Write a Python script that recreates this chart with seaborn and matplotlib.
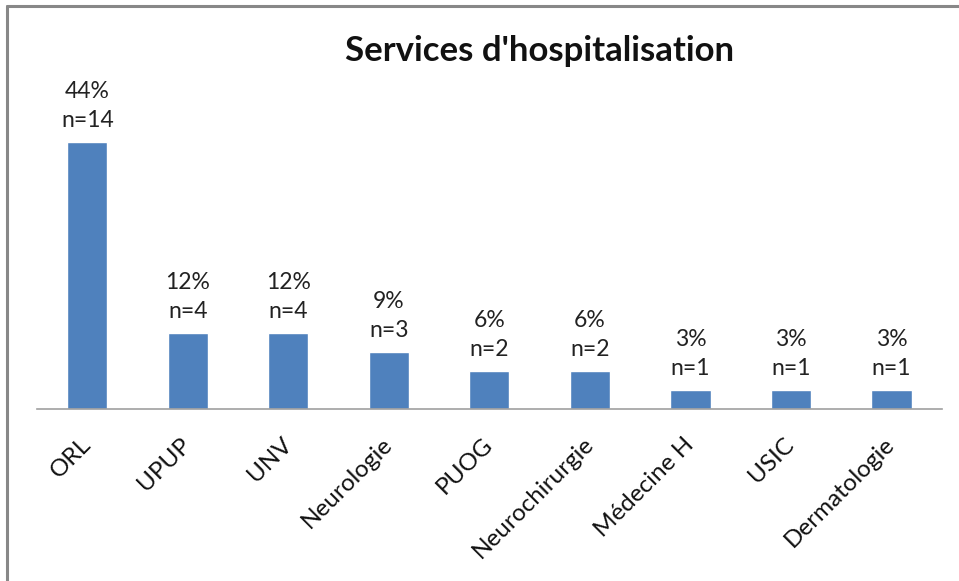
import matplotlib
matplotlib.use('Agg')
import matplotlib.pyplot as plt
import seaborn as sns
from matplotlib.lines import Line2D

# données
services = ['ORL', 'UPUP', 'UNV', 'Neurologie', 'PUOG', 'Neurochirurgie',
            'Médecine H', 'USIC', 'Dermatologie']
effectifs = [14, 4, 4, 3, 2, 2, 1, 1, 1]
pourcentages = ['44%', '12%', '12%', '9%', '6%', '6%', '3%', '3%', '3%']

sns.set_style('white')
plt.rcParams['font.family'] = ['Lato', 'DejaVu Sans']

fig = plt.figure(figsize=(9.59, 5.81), dpi=100)
ax = fig.add_axes([0.0386, 0.296, 0.9434, 0.601])

sns.barplot(x=services, y=effectifs, color='#4F81BD', width=0.4,
            saturation=1, ax=ax)

# étiquettes au-dessus des barres
for i, (n, p) in enumerate(zip(effectifs, pourcentages)):
    ax.annotate(f'{p}\nn={n}', xy=(i, n), xytext=(0, 8),
                textcoords='offset points', ha='center', va='bottom',
                fontsize=16.5, color='#222222', linespacing=1.45)

ax.set_ylim(0, 18.3)
ax.set_xlim(-0.5, len(services) - 0.5)
ax.set_yticks([])
ax.set_xlabel('')
ax.set_ylabel('')
for s in ['top', 'right', 'left']:
    ax.spines[s].set_visible(False)
ax.spines['bottom'].set_color('#A0A0A0')
ax.spines['bottom'].set_linewidth(1.2)
ax.tick_params(axis='x', length=0, pad=23)
plt.setp(ax.get_xticklabels(), rotation=45, ha='right', va='center',
         rotation_mode='anchor', fontsize=17.5, color='#111111')

fig.text(0.563, 0.912, "Services d'hospitalisation", ha='center', va='center',
         fontsize=25, fontweight='bold', color='#111111')

# cadre gris (haut et gauche)
fig.add_artist(Line2D([0.0068, 1.0], [0.9905, 0.9905], color='#888888', lw=2.2,
                      transform=fig.transFigure))
fig.add_artist(Line2D([0.0068, 0.0068], [0.0, 0.9905], color='#888888', lw=2.2,
                      transform=fig.transFigure))

fig.savefig('out.png', dpi=100)
plt.close(fig)
